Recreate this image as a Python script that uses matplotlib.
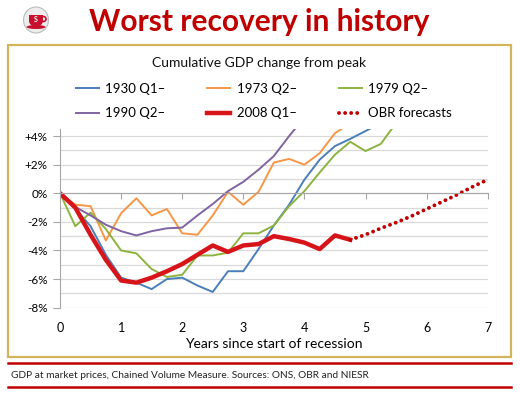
import matplotlib.pyplot as plt
import matplotlib.patches as mpatches
from matplotlib.ticker import FuncFormatter, MultipleLocator
from matplotlib.lines import Line2D

# quarterly, cumulative % change from pre-recession GDP peak
r1930 = [0, -1.1, -2.3, -4.3, -5.9, -6.25, -6.7, -6.0, -5.9, -6.45, -6.9, -5.45, -5.45,
         -3.9, -2.25, -0.8, 0.95, 2.35, 3.3, 3.8, 4.35, 4.9]
r1973 = [0, -0.8, -0.9, -3.3, -1.4, -0.35, -1.55, -1.1, -2.8, -2.9, -1.55, 0.1, -0.8,
         0.1, 2.15, 2.4, 2.0, 2.8, 4.2, 4.9]
r1979 = [0, -2.3, -1.35, -2.5, -4.0, -4.2, -5.3, -5.85, -5.7, -4.35, -4.35, -4.15, -2.8,
         -2.8, -2.25, -0.9, 0.15, 1.45, 2.7, 3.6, 2.95, 3.45, 4.9]
r1990 = [0, -0.95, -1.55, -2.2, -2.65, -2.95, -2.65, -2.45, -2.4, -1.55, -0.75, 0.15, 0.8,
         1.65, 2.6, 4.0, 5.3]
r2008 = [0, -1.0, -2.9, -4.65, -6.1, -6.25, -5.9, -5.45, -4.95, -4.3, -3.65, -4.1, -3.65,
         -3.55, -3.0, -3.2, -3.45, -3.9, -2.95, -3.25]
obr = [-3.25, -2.9, -2.45, -2.05, -1.6, -1.1, -0.6, -0.1, 0.45, 0.95]
obr_start = 4.75

series = [("1930 Q1\u2013", r1930, "#4A7EBB"), ("1973 Q2\u2013", r1973, "#F79646"),
          ("1979 Q2\u2013", r1979, "#8DB33F"), ("1990 Q2\u2013", r1990, "#8064A2")]

plt.rcParams["font.family"] = ["Lato", "DejaVu Sans"]

fig = plt.figure(figsize=(5.2, 3.96), dpi=100)
fig.patch.set_facecolor("white")

# gold frame around the chart
fig.add_artist(mpatches.Rectangle((8 / 520, 1 - 357 / 396), 503 / 520, 312 / 396,
                                  transform=fig.transFigure, fill=False,
                                  edgecolor="#D2B55B", linewidth=1.6))
# red rules around the footnote
for yy in (363, 387):
    fig.add_artist(Line2D([8 / 520, 511 / 520], [1 - yy / 396] * 2, transform=fig.transFigure,
                          color="#C00000", linewidth=1.8))
fig.text(11 / 520, 1 - 375 / 396, "GDP at market prices, Chained Volume Measure. Sources: ONS, OBR and NIESR",
         fontsize=7.3, va="center", color="#222222")

# logo: grey badge with a red cup
cx, cy = 36 / 520, 1 - 20 / 396
fig.add_artist(mpatches.Ellipse((cx, cy), 25 / 520, 26 / 396, transform=fig.transFigure,
                                facecolor="#EDEDED", edgecolor="#BBBBBB", linewidth=0.8))
fig.add_artist(mpatches.Ellipse((cx, cy - 7 / 396), 19 / 520, 4 / 396, transform=fig.transFigure,
                                facecolor="#C8102E", edgecolor="none"))
fig.add_artist(mpatches.Ellipse((cx, cy - 1 / 396), 14 / 520, 11 / 396, transform=fig.transFigure,
                                facecolor="#C8102E", edgecolor="none"))
fig.add_artist(mpatches.Rectangle((cx - 7 / 520, cy - 0.5 / 396), 14 / 520, 5 / 396, transform=fig.transFigure,
                                  facecolor="#C8102E", edgecolor="none"))
fig.add_artist(mpatches.Ellipse((cx + 7.5 / 520, cy + 1 / 396), 5 / 520, 5 / 396, transform=fig.transFigure,
                                facecolor="none", edgecolor="#C8102E", linewidth=1.2))
fig.text(cx, cy, "S", color="white", fontsize=5, fontweight="bold", ha="center", va="center")

fig.text(259 / 520, 1 - 22 / 396, "Worst recovery in history", color="#C00000", fontsize=21.5,
         fontweight="bold", ha="center", va="center")
fig.text(259 / 520, 1 - 63 / 396, "Cumulative GDP change from peak", fontsize=10,
         ha="center", va="center", color="#111111")

ax = fig.add_axes([60 / 520, 0.223, 427.7 / 520, 0.4515])

for label, vals, col in series:
    xs = [i * 0.25 for i in range(len(vals))]
    ax.plot(xs, vals, color=col, linewidth=1.4, label=label)
xs = [i * 0.25 for i in range(len(r2008))]
ax.plot(xs, r2008, color="#D7141A", linewidth=3.2, solid_joinstyle="round", label="2008 Q1\u2013")
xs = [obr_start + i * 0.25 for i in range(len(obr))]
ax.plot(xs, obr, color="#C00000", linewidth=2.8, linestyle=(0, (0.01, 1.55)),
        dash_capstyle="round", label="OBR forecasts")

ax.set_xlim(0, 7)
ax.set_ylim(-8, 4.5)
ax.yaxis.set_major_locator(MultipleLocator(2))
ax.yaxis.set_minor_locator(MultipleLocator(1))
ax.yaxis.set_major_formatter(FuncFormatter(lambda v, p: "0%" if v == 0 else f"{v:+.0f}%".replace("\u2212", "-")))
ax.grid(True, which="both", axis="y", color="#D9D9D9", linewidth=0.9)
ax.set_axisbelow(True)
for s in ("top", "right"):
    ax.spines[s].set_visible(False)
ax.spines["left"].set_color("#A6A6A6")
ax.spines["bottom"].set_position(("data", 0))
ax.spines["bottom"].set_color("#A6A6A6")
ax.tick_params(axis="y", which="major", length=5, color="#A6A6A6", labelsize=8.5, pad=4)
ax.tick_params(axis="y", which="minor", length=0)
ax.set_xticks(range(8))
ax.tick_params(axis="x", length=4, color="#A6A6A6", labelbottom=False)

sec = ax.secondary_xaxis(0)
sec.set_xticks(range(8))
sec.tick_params(length=0, labelsize=9, pad=10)
sec.spines["bottom"].set_visible(False)
sec.set_xlabel("Years since start of recession", fontsize=10, labelpad=3)

handles, labels = ax.get_legend_handles_labels()
order = [0, 3, 1, 4, 2, 5]
fig.legend([handles[i] for i in order], [labels[i] for i in order], ncol=3,
           loc="upper left", bbox_to_anchor=(73 / 520, 1 - 80 / 396), frameon=False,
           fontsize=9.5, handlelength=1.75, columnspacing=3.15, handletextpad=0.5,
           labelspacing=0.95, borderaxespad=0, borderpad=0.2)

fig.savefig("out.png", dpi=100)
